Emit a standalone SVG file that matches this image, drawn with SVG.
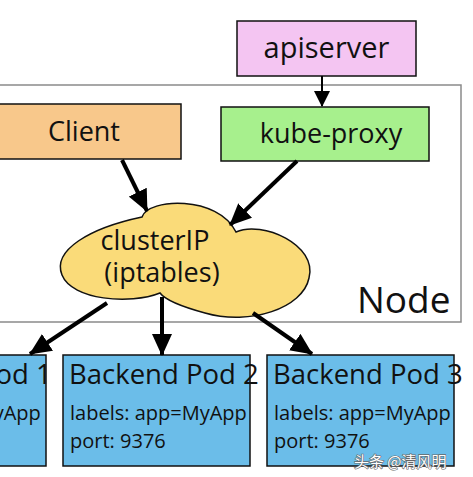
<svg xmlns="http://www.w3.org/2000/svg" width="473" height="477" viewBox="0 0 473 477">
<style>
  .t { font-family: "Open Sans", "Noto Sans", sans-serif; fill: #111; }
  .box { stroke: #111; stroke-width: 1.5; }
  .pod { fill: #6bbde9; stroke: #111; stroke-width: 1.5; }
  .big { font-size: 27px; }
  .pt { font-size: 27.5px; }
  .st { font-size: 20px; }
  .conn { stroke: #000; stroke-width: 4; fill: none; }
</style>
<defs>
  <marker id="ah" markerUnits="userSpaceOnUse" markerWidth="22" markerHeight="20" refX="21" refY="10" orient="auto">
    <path d="M0,0 L22,10 L0,20 z" fill="#000"/>
  </marker>
  <marker id="ahs" markerUnits="userSpaceOnUse" markerWidth="16" markerHeight="16" refX="15" refY="8" orient="auto">
    <path d="M0,0 L16,8 L0,16 z" fill="#000"/>
  </marker>
</defs>
<rect width="473" height="477" fill="#fff"/>

<g id="node-frame">
  <rect x="-2" y="85" width="463" height="237" fill="none" stroke="#8a8a8a" stroke-width="1.5"/>
  <text class="t" x="357" y="313" font-size="37">Node</text>
</g>

<g id="apiserver">
  <rect class="box" x="237" y="21" width="179" height="55" fill="#f4c5f2"/>
  <text class="t" x="326.5" y="58" font-size="29" text-anchor="middle">apiserver</text>
</g>

<g id="client">
  <rect class="box" x="-2" y="104" width="183" height="55" fill="#f8c88b"/>
  <text class="t big" x="84" y="141" text-anchor="middle">Client</text>
</g>

<g id="kube-proxy">
  <rect class="box" x="221" y="107" width="208" height="54" fill="#a7f08d"/>
  <text class="t big" x="331" y="143" text-anchor="middle">kube-proxy</text>
</g>

<g id="clusterip">
  <path d="M160 293 C130 305 72 300 62 275 C52 250 90 228 142 217 C148 198 218 195 236 232 C262 220 318 245 309 278 C303 308 250 326 205 313 C183 307 166 301 160 293 Z" fill="#fadb79" stroke="#111" stroke-width="1.5"/>
  <text class="t big" x="155" y="250" text-anchor="middle">clusterIP</text>
  <text class="t big" x="162" y="282" text-anchor="middle">(iptables)</text>
</g>

<g id="pod1">
  <rect class="pod" x="-141" y="355" width="187" height="111"/>
  <text class="t pt" x="-138" y="384">Backend Pod 1</text>
  <text class="t st" x="-136" y="420">labels: app=MyApp</text>
  <text class="t st" x="-136" y="448">port: 9376</text>
</g>

<g id="pod2">
  <rect class="pod" x="63" y="355" width="187" height="111"/>
  <text class="t pt" x="69" y="384">Backend Pod 2</text>
  <text class="t st" x="70" y="420">labels: app=MyApp</text>
  <text class="t st" x="70" y="448">port: 9376</text>
</g>

<g id="pod3">
  <rect class="pod" x="267" y="355" width="187" height="111"/>
  <text class="t pt" x="273" y="384">Backend Pod 3</text>
  <text class="t st" x="274" y="420">labels: app=MyApp</text>
  <text class="t st" x="274" y="448">port: 9376</text>
</g>

<g id="connectors">
  <line x1="322" y1="76" x2="322" y2="106" stroke="#000" stroke-width="2" marker-end="url(#ahs)"/>
  <line class="conn" x1="122" y1="160" x2="147" y2="211" marker-end="url(#ah)"/>
  <line class="conn" x1="297" y1="161" x2="230" y2="225" marker-end="url(#ah)"/>
  <line class="conn" x1="107" y1="303" x2="30" y2="354" marker-end="url(#ah)"/>
  <line class="conn" x1="162" y1="297" x2="162" y2="355" marker-end="url(#ah)"/>
  <line class="conn" x1="253" y1="313" x2="312" y2="354" marker-end="url(#ah)"/>
</g>

<text x="354" y="467" font-family="'Noto Sans CJK SC', sans-serif" font-size="15" fill="#fff" stroke="#666" stroke-width="1.2" paint-order="stroke">头条 @清风明</text>
</svg>
